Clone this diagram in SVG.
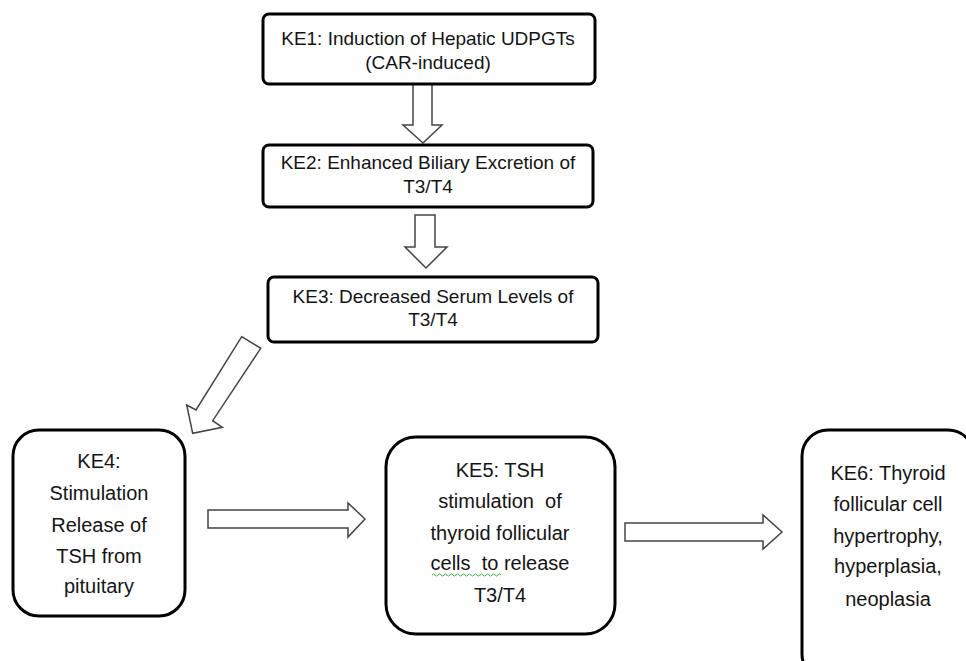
<svg xmlns="http://www.w3.org/2000/svg" width="966" height="661" viewBox="0 0 966 661">
<style>
.box{fill:#fff;stroke:#000;stroke-width:3}
.arr{fill:#fff;stroke:#444;stroke-width:1.5;stroke-linejoin:miter}
text{font-family:"Liberation Sans",Arial,sans-serif;fill:#141414;text-anchor:middle;white-space:pre}
.t1{font-size:19px}
.t2{font-size:20px}
</style>
<rect width="966" height="661" fill="#fff"/>
<g id="connectors">
<polygon class="arr" points="413,84 432,84 432,125 442,125 423,143 403,125 413,125"/>
<polygon class="arr" points="415,215 435,215 435,247 447,247 426,268 405,247 415,247"/>
<polygon class="arr" points="241.7,336.7 260.7,348.3 212.7,420.7 222.3,427.3 192.7,433.3 186.7,405 196,410"/>
<polygon class="arr" points="208,510 348,510 348,503 365,519 348,537 348,528 208,528"/>
<polygon class="arr" points="625,523 763,523 763,515 782,532 763,549 763,541 625,541"/>
</g>
<g id="ke1">
<rect class="box" x="263" y="14" width="332" height="70" rx="6"/>
<text class="t1" x="428" y="45">KE1: Induction of Hepatic UDPGTs</text>
<text class="t1" x="428" y="69">(CAR-induced)</text>
</g>
<g id="ke2">
<rect class="box" x="263" y="145" width="330" height="62" rx="6"/>
<text class="t1" x="428" y="169">KE2: Enhanced Biliary Excretion of</text>
<text class="t1" x="428" y="193">T3/T4</text>
</g>
<g id="ke3">
<rect class="box" x="268" y="277" width="330" height="65" rx="6"/>
<text class="t1" x="433" y="303">KE3: Decreased Serum Levels of</text>
<text class="t1" x="433" y="326">T3/T4</text>
</g>
<g id="ke4">
<rect class="box" x="13" y="430" width="172" height="186" rx="26"/>
<text class="t2" x="99" y="468">KE4:</text>
<text class="t2" x="99" y="500">Stimulation</text>
<text class="t2" x="99" y="532">Release of</text>
<text class="t2" x="99" y="563">TSH from</text>
<text class="t2" x="99" y="593">pituitary</text>
</g>
<g id="ke5">
<rect class="box" x="386" y="437" width="229" height="197" rx="30"/>
<text class="t2" x="500" y="477">KE5: TSH</text>
<text class="t2" x="500" y="508">stimulation  of</text>
<text class="t2" x="500" y="540">thyroid follicular</text>
<text class="t2" x="500" y="570">cells  to release</text>
<text class="t2" x="500" y="602">T3/T4</text>
<path d="M432,575 q1.5,-2 3,0 t3,0 t3,0 t3,0 t3,0 t3,0 t3,0 t3,0 t3,0 t3,0 t3,0 t3,0 t3,0 t3,0 t3,0 t3,0 t3,0 t3,0 t3,0 t3,0 t3,0 t3,0 t3,0" fill="none" stroke="#3fae49" stroke-width="1"/>
</g>
<g id="ke6">
<rect class="box" x="802" y="430" width="172" height="250" rx="26"/>
<text class="t2" x="888" y="480">KE6: Thyroid</text>
<text class="t2" x="888" y="511">follicular cell</text>
<text class="t2" x="888" y="543">hypertrophy,</text>
<text class="t2" x="888" y="573">hyperplasia,</text>
<text class="t2" x="888" y="606">neoplasia</text>
</g>
</svg>
